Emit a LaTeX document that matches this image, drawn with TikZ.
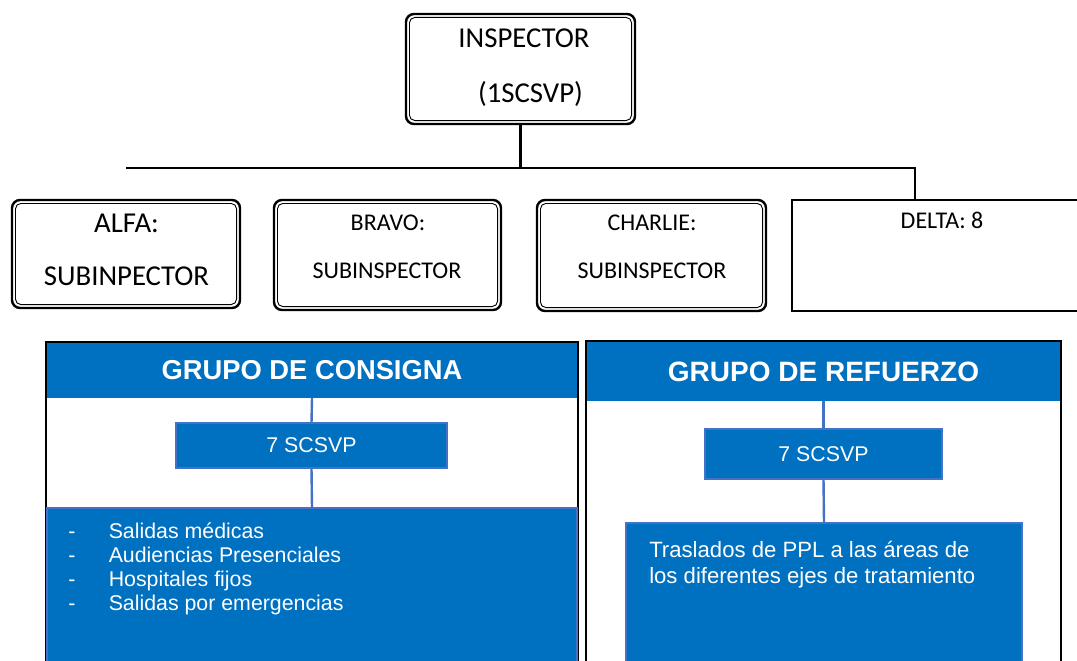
\documentclass[tikz,border=0pt]{standalone}
\usepackage{fontspec}
\setmainfont{Carlito}
\newfontfamily\arialf{Liberation Sans}
\usetikzlibrary{positioning}
\definecolor{azul}{HTML}{0070C0}
\definecolor{azulclaro}{HTML}{4472C4}
\newcommand\pxu{0.75pt}
\tikzset{
	tam/.style 2 args={minimum width=#1*\pxu, minimum height=#2*\pxu, inner sep=0pt, outer sep=0pt},
	caja/.style={draw, line width=1.8pt, rounded corners=6pt,
			path picture={\draw[line width=0.7pt, rounded corners=4pt]
					([shift={(2.6pt,-2.6pt)}]path picture bounding box.north west) rectangle
					([shift={(-2.6pt,2.6pt)}]path picture bounding box.south east);}},
	grande/.style={font=\fontsize{21.6}{26}\selectfont, anchor=base, inner sep=0pt},
	chico/.style={font=\fontsize{18}{22}\selectfont, anchor=base, inner sep=0pt},
	linea/.style={line width=1.6pt},
	marco/.style={draw, line width=1.5pt},
	cabecera/.style={fill=azul, text=white, font=\arialf\bfseries\fontsize{20.5}{24}\selectfont},
	bloque/.style={fill=azul, draw=azulclaro, line width=0.8pt, text=white, font=\arialf\fontsize{16}{19}\selectfont},
	enlace/.style={draw=azulclaro, line width=1.8pt},
	lista/.style={text=white, font=\arialf\fontsize{16}{19}\selectfont, anchor=base west, inner sep=0pt}
}

\begin{document}
\begin{tikzpicture}[x=\pxu, y=-\pxu]
	\path[use as bounding box, clip] (0,0) rectangle (1077,660);
	% inspector
	\node[caja, tam={229}{110}] (insp) at (520.5,69) {};
	\node[grande] (inspt) at (524,48) {INSPECTOR};
	\node[grande] (inspg) at (530.5,103) {(1SCSVP)};
	% subinspectores
	\node[caja, tam={228}{108}] (alfa) at (126,254) {};
	\node[grande] (alfat) at (126.5,232) {ALFA:};
	\node[grande] (alfag) at (126.5,285) {SUBINPECTOR};
	\node[caja, tam={227}{110}] (bravo) at (387.5,255) {};
	\node[chico] (bravot) at (388,230) {BRAVO:};
	\node[chico] (bravog) at (387,278) {SUBINSPECTOR};
	\node[caja, tam={229}{111}] (charlie) at (651.5,255.5) {};
	\node[chico] (charliet) at (652,230) {CHARLIE:};
	\node[chico] (charlieg) at (652,278) {SUBINSPECTOR};
	\node[draw, line width=1.5pt, tam={308}{111}] (delta) at (946,255.5) {};
	\node[chico] (deltat) at (942,228) {DELTA: 8};
	% lineas
	\coordinate (hizq) at (126,168);
	\coordinate (hder) at (915,168);
	\draw[linea] (insp.south) -- (insp.south |- hizq);
	\draw[linea] (hizq) -- (hder) -- (hder |- delta.north);
	% grupo de consigna
	\node[marco, tam={532}{358}] (consigna) at (312,521) {};
	\node[cabecera, tam={530}{55}] (consignat) at (312,370.5) {GRUPO DE CONSIGNA};
	\node[bloque, tam={271}{45}] (consignan) at (311.5,445.5) {7 SCSVP};
	\node[bloque, tam={530}{190}, anchor=north] (consignal) at (312,508) {};
	\draw[enlace] (consignat.south) -- (consignan.north);
	\draw[enlace] (consignan.south) -- (consignal.north);
	\foreach \t [count=\i] in {Salidas médicas, Audiencias Presenciales, Hospitales fijos, Salidas por emergencias}{
		\node[lista] (guion\i) at (68,514+24*\i) {-};
		\node[lista] (item\i) at (108.5,514+24*\i) {\t};
	}
	% grupo de refuerzo
	\node[marco, tam={475}{359}] (refuerzo) at (823.5,520.5) {};
	\node[cabecera, tam={473}{59}, font=\arialf\bfseries\fontsize{21}{25}\selectfont] (refuerzot) at (823.5,371.5) {GRUPO DE REFUERZO};
	\node[bloque, tam={237}{50}] (refuerzon) at (823.5,454) {7 SCSVP};
	\node[bloque, tam={396}{180}, anchor=north] (refuerzol) at (824,523) {};
	\draw[enlace] (refuerzot.south) -- (refuerzon.north);
	\draw[enlace] (refuerzon.south) -- (refuerzol.north);
	\node[lista, font=\arialf\fontsize{16.6}{20}\selectfont] (tras1) at (649,557) {Traslados de PPL a las áreas de};
	\node[lista, font=\arialf\fontsize{16.6}{20}\selectfont] (tras2) at (649,583) {los diferentes ejes de tratamiento};
\end{tikzpicture}
\end{document}
